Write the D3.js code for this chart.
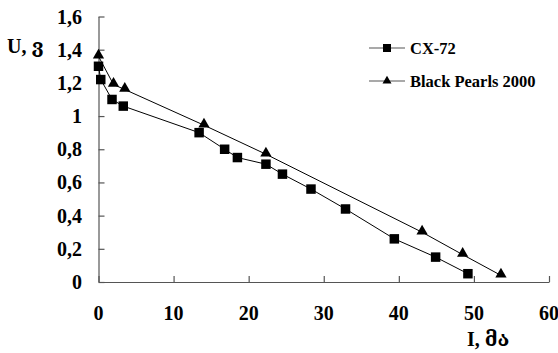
<!DOCTYPE html>
<html>
<head>
<meta charset="utf-8">
<script src="https://cdn.jsdelivr.net/npm/d3@7"></script>
<style>
body{margin:0;background:#fff}
text{font-family:"Liberation Serif","DejaVu Serif",serif;font-weight:bold;fill:#000}
</style>
</head>
<body>
<div id="chart"></div>
<script>
var seriesNames = ['CX-72','Black Pearls 2000']
var cxI = [0,0.3,1.8,3.3,13.4,16.8,18.5,22.3,24.5,28.3,32.9,39.4,44.9,49.2]
var cxU = [1.3,1.22,1.1,1.06,0.9,0.8,0.75,0.71,0.65,0.56,0.44,0.26,0.15,0.05]
var bpI = [0,2.0,3.5,14.05,22.3,43.1,48.5,53.6]
var bpU = [1.36,1.19,1.16,0.945,0.77,0.3,0.165,0.04]
var xTicks = [0,10,20,30,40,50,60]
var yTicks = [0,0.2,0.4,0.6,0.8,1,1.2,1.4,1.6]

var W = 558, H = 353
var svg = d3.select('#chart').append('svg')
	.attr('width', W).attr('height', H)

var x = d3.scaleLinear().domain([0,60]).range([98.5,549])
var y = d3.scaleLinear().domain([0,1.6]).range([282,16.5])
var fmt = d => String(d).replace('.',',')

// axes, ticks pointing inward
var xAxis = svg.append('g').attr('transform','translate(0,'+y(0)+')')
	.call(d3.axisTop(x).tickValues(xTicks).tickSize(6).tickSizeOuter(0).tickFormat(''))
var yAxis = svg.append('g').attr('transform','translate('+x(0)+',0)')
	.call(d3.axisRight(y).tickValues(yTicks).tickSize(6).tickSizeOuter(0).tickFormat(''))
svg.selectAll('.domain, .tick line').attr('stroke','#555').attr('stroke-width',1.2)

svg.append('g').selectAll('text').data(xTicks).join('text')
	.attr('x', d => x(d)).attr('y', 320)
	.attr('text-anchor','middle').style('font-size','20px')
	.text(d => d)
svg.append('g').selectAll('text').data(yTicks).join('text')
	.attr('x', 82).attr('y', d => y(d)+7)
	.attr('text-anchor','end').style('font-size','20px')
	.text(fmt)

svg.append('text').attr('x',7).attr('y',53).style('font-size','20px').text('U, ვ')
svg.append('text').attr('x',467).attr('y',346).style('font-size','20px').text('I, მა')

var line = d3.line().x(d => x(d[0])).y(d => y(d[1]))
var cx = cxI.map((v,i) => [v,cxU[i]])
var bp = bpI.map((v,i) => [v,bpU[i]])

svg.append('path').datum(cx).attr('d',line).attr('fill','none').attr('stroke','#000').attr('stroke-width',1)
svg.append('path').datum(bp).attr('d',line).attr('fill','none').attr('stroke','#000').attr('stroke-width',1)

var sq = d3.symbol().type(d3.symbolSquare).size(90)
var tri = d3.symbol().type(d3.symbolTriangle).size(55)
svg.append('g').selectAll('path').data(cx).join('path')
	.attr('d',sq).attr('transform',d => 'translate('+x(d[0])+','+y(d[1])+')').attr('fill','#000')
svg.append('g').selectAll('path').data(bp).join('path')
	.attr('d',tri).attr('transform',d => 'translate('+x(d[0])+','+(y(d[1])-1)+')').attr('fill','#000')

// legend
var leg = svg.append('g')
var ly = [48,81]
seriesNames.forEach(function(n,i){
	leg.append('line').attr('x1',369).attr('x2',405).attr('y1',ly[i]).attr('y2',ly[i])
		.attr('stroke','#555').attr('stroke-width',1.2)
	leg.append('path').attr('d', i==0 ? d3.symbol().type(d3.symbolSquare).size(64)() : d3.symbol().type(d3.symbolTriangle).size(35)())
		.attr('transform','translate(387,'+ly[i]+')').attr('fill','#000')
	leg.append('text').attr('x',410).attr('y',ly[i]+6).style('font-size','16.5px').text(n)
})
</script>
</body>
</html>
